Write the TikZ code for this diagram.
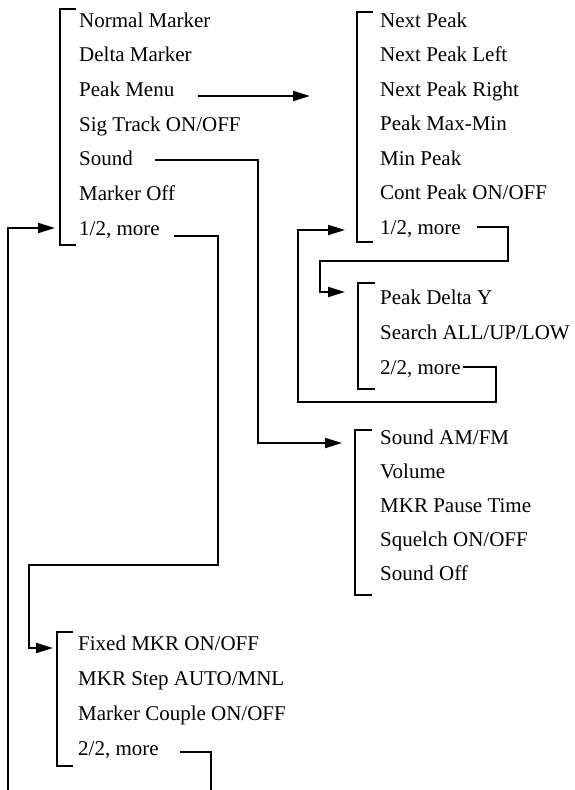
\documentclass[tikz,border=0pt]{standalone}
\usepackage{fontspec}
\setmainfont{Liberation Serif}
\usetikzlibrary{arrows.meta}
\begin{document}
\begin{tikzpicture}[x=1pt,y=-1pt,
  item/.style={anchor=west,inner sep=0pt,text height=14pt,text depth=0pt,font=\fontsize{21}{25}\selectfont},
  conn/.style={line width=2pt},
  arr/.style={conn,-{Triangle[length=17pt,width=10pt]}},
  brk/.style={line width=2pt}]
\useasboundingbox (0,0) rectangle (575,790);

% Menu 1
\node[item] (nm)  at (79,20)    {Normal Marker};
\node[item] (dm)  at (79,54.7)  {Delta Marker};
\node[item] (pm)  at (79,89.4)  {Peak Menu};
\node[item] (st)  at (79,124.1) {Sig Track ON/OFF};
\node[item] (snd) at (79,158.8) {Sound};
\node[item] (mo)  at (79,193.5) {Marker Off};
\node[item] (m1)  at (79,228.2) {1/2, more};
\draw[brk] (76,9) -- (60,9) -- (60,245) -- (76,245);

% Menu 2
\node[item] (np)  at (380,20)    {Next Peak};
\node[item] (npl) at (380,54.5)  {Next Peak Left};
\node[item] (npr) at (380,89)    {Next Peak Right};
\node[item] (pmm) at (380,123.5) {Peak Max-Min};
\node[item] (mp)  at (380,158)   {Min Peak};
\node[item] (cp)  at (380,192.5) {Cont Peak ON/OFF};
\node[item] (p1)  at (380,227)   {1/2, more};
\draw[brk] (373,12) -- (357,12) -- (357,242) -- (373,242);

% Menu 3
\node[item] (pdy) at (380,297) {Peak Delta Y};
\node[item] (sa)  at (380,332) {Search ALL/UP/LOW};
\node[item] (p2)  at (380,367) {2/2, more};
\draw[brk] (375,283) -- (358,283) -- (358,389) -- (375,389);

% Sound menu
\node[item] (sam) at (380,437) {Sound AM/FM};
\node[item] (vol) at (380,471) {Volume};
\node[item] (mpt) at (380,505) {MKR Pause Time};
\node[item] (sq)  at (380,539) {Squelch ON/OFF};
\node[item] (so)  at (380,573) {Sound Off};
\draw[brk] (372,430) -- (355,430) -- (355,595) -- (372,595);

% Menu 5
\node[item] (fm)  at (78,643) {Fixed MKR ON/OFF};
\node[item] (ms)  at (78,678) {MKR Step AUTO/MNL};
\node[item] (mc)  at (78,713) {Marker Couple ON/OFF};
\node[item] (m2)  at (78,748) {2/2, more};
\draw[brk] (73,632) -- (57,632) -- (57,766) -- (73,766);

% tip coordinates and free ends
\coordinate (pmtip)  at (310,96);
\coordinate (sndtip) at (342,443);
\coordinate (m1tip)  at (53,648);
\coordinate (lptip)  at (55,228);
\coordinate (lpend)  at (8,790);
\coordinate (m2end)  at (211,790);
\coordinate (p1tip)  at (345,292);
\coordinate (p2tip)  at (345,230);

% connectors
\draw[arr] ([xshift=24pt,yshift=-6.6pt]pm.east) -- (pmtip);
\draw[arr] ([xshift=22pt,yshift=-1.2pt]snd.east) -| (258,443) -- (sndtip);
\draw[arr] ([xshift=14.5pt,yshift=-7.8pt]m1.east) -| (218,565) -| (29,648) -- (m1tip);
\draw[conn] ([xshift=21.5pt,yshift=-4pt]m2.east) -| (m2end);
\draw[arr] (lpend) |- (lptip);
\draw[arr] ([xshift=16.5pt]p1.east) -| (508,261) -| (320,292) -- (p1tip);
\draw[arr] ([xshift=2.5pt]p2.east) -| (496,402) -| (298,230) -- (p2tip);
\end{tikzpicture}
\end{document}
